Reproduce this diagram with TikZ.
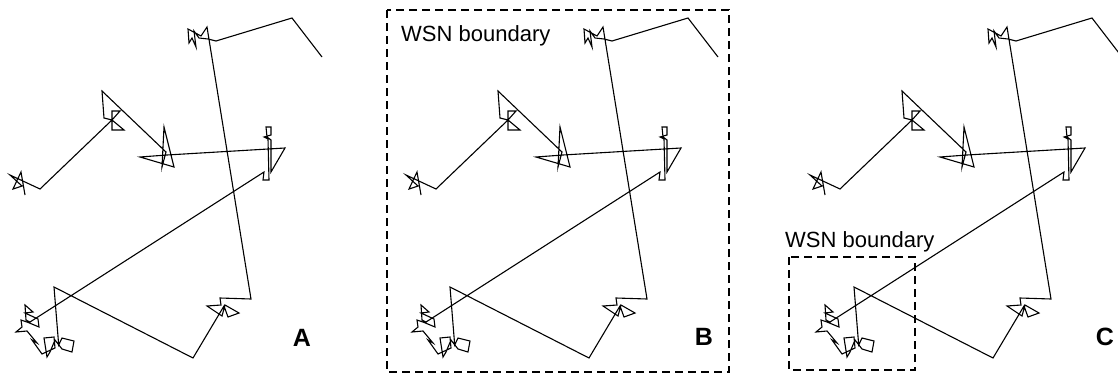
\documentclass[tikz,border=0pt]{standalone}
\usepackage{fontspec}
\setmainfont{Liberation Sans}
\begin{document}
\begin{tikzpicture}[x=1pt,y=-1pt,
  traj/.style={draw=black, line width=1.1pt, line join=miter},
  wsnbox/.style={draw=black, line width=2.3pt, dash pattern=on 8pt off 5pt},
  wsntext/.style={anchor=base west, inner sep=0pt, font=\fontsize{22}{26}\selectfont},
  paneltag/.style={anchor=base, inner sep=0pt, font=\fontsize{25}{29}\selectfont\bfseries},
  walk/.style={insert path={
    (322,57) -- (292,18) -- (216,41) -- (208,39) -- (199,38) -- (194,31) -- (196,47) -- (192,38) -- (189,43) -- (188,29) -- (201,36) -- (207,27)
    -- (251,299) -- (220,298) -- (221,305) -- (207,306) -- (222,316) -- (225,305) -- (239,313) -- (228,317) -- (224,306)
    -- (193,358) -- (54,287) -- (58.7,345)
    -- (62,338) -- (74,341) -- (72,352) -- (62,349) -- (55,340) -- (50,352) -- (47,357) -- (44,338) -- (54,337) -- (55,348) -- (42,354) -- (32,340) -- (37,343) -- (27,331) -- (16,332) -- (22,327) -- (21,320) -- (27,322) -- (39,327) -- (38,319) -- (25,313) -- (33,312) -- (25,305) -- (26,320) -- (30,322)
    -- (264,172) -- (263,180) -- (269,180) -- (268,139) -- (264,137) -- (271,135) -- (271,127) -- (266,127) -- (267,137) -- (271,140) -- (271,172) -- (285,148)
    -- (167,155) -- (140,157) -- (174,167) -- (164,127) -- (162,167) -- (166,152)
    -- (102,91) -- (104,118) -- (112,120) -- (120,111) -- (112,111) -- (112,130) -- (124,130) -- (112,120)
    -- (40,189) -- (10,175) -- (22,186) -- (13,189) -- (21,172) -- (25,195)
  }}]
\useasboundingbox (0,0) rectangle (1118,375);
\foreach \dx in {0,396,800}{
  \begin{scope}[xshift=\dx pt]
    \draw[traj, walk];
  \end{scope}
}
\node[paneltag] (tagA) at (302,346) {A};
\node[paneltag] (tagB) at (704,345) {B};
\node[paneltag] (tagC) at (1105,345) {C};
\draw[wsnbox] (387,10) rectangle (729,372);
\node[wsntext] (wsnB) at (401,41) {WSN boundary};
\draw[wsnbox] (789,257) rectangle (915,370);
\node[wsntext] (wsnC) at (785,247) {WSN boundary};
\end{tikzpicture}
\end{document}
